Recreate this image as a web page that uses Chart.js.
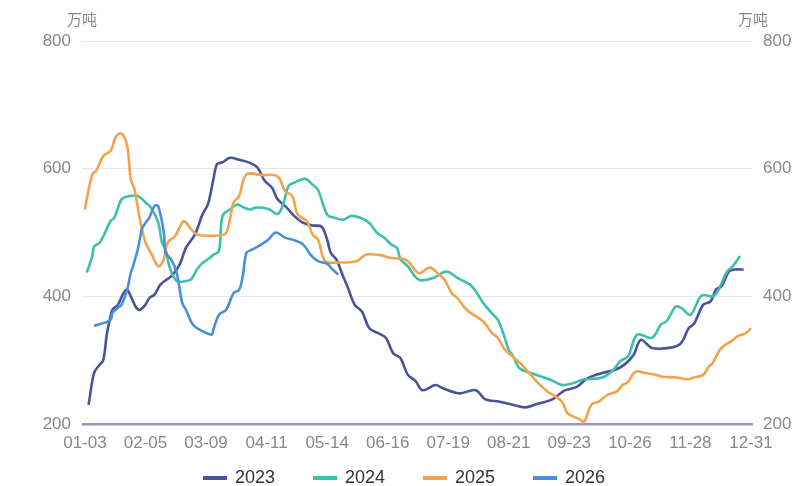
<!DOCTYPE html>
<html lang="zh-CN">
<head>
<meta charset="UTF-8">
<title>库存季节性走势</title>
<script src="https://cdn.jsdelivr.net/npm/chart.js@4.4.1/dist/chart.umd.min.js"></script>
<style>
    html, body { margin: 0; padding: 0; background: #fff; }
    .chart-box { position: relative; width: 797px; height: 486px; }
</style>
</head>
<body>
<div class="chart-box"><canvas id="stockChart"></canvas></div>
<script>
// x = 日序号（01-03 为 0）
const tickDays = [0, 33, 66, 99, 132, 165, 198, 231, 264, 297, 330, 363];
const tickLabels = ['01-03', '02-05', '03-09', '04-11', '05-14', '06-16', '07-19', '08-21', '09-23', '10-26', '11-28', '12-31'];
const unitLabel = '万吨';

const days2023 = [2,5,8,10,12,14,15,18,21,23,25,28,30,33,35,38,41,45,48,52,55,60,64,67,70,72,75,79,84,90,94,98,102,105,110,114,119,124,129,132,134,137,141,143,147,151,155,160,164,168,172,176,180,184,191,195,204,213,218,226,232,240,246,255,261,268,274,282,289,294,299,303,309,320,325,329,332,337,341,344,347,351,354,359];
const values2023 = [230,280,293,300,342,369,379,387,405,410,400,382,379,387,397,403,418,427,434,452,476,497,528,544,583,607,610,617,614,609,602,581,570,552,539,526,515,511,509,489,468,458,429,416,387,376,350,342,335,311,303,277,268,253,261,256,248,253,239,235,231,226,231,239,252,258,272,280,285,293,308,332,319,320,327,350,357,387,392,411,416,439,442,442];

const days2024 = [1,4,5,8,11,14,16,20,24,29,33,36,40,42,44,46,50,55,58,61,64,67,70,73,75,79,83,86,90,93,100,105,108,111,114,120,124,127,132,136,141,145,150,155,159,163,167,170,172,176,180,183,190,197,203,210,213,217,221,225,228,231,233,237,243,249,254,260,266,272,281,287,292,296,301,309,314,317,322,325,330,336,343,350,353,357];
const values2024 = [437,463,478,484,500,518,523,552,557,557,547,539,515,484,473,447,424,424,427,442,452,458,465,471,526,536,544,540,536,539,537,529,544,573,578,584,575,567,528,523,520,526,523,515,500,492,481,476,458,447,431,425,429,439,429,418,408,390,376,363,342,316,308,287,280,274,269,261,264,270,272,282,299,306,340,335,356,361,384,382,371,401,401,439,447,463];

const days2025 = [0,1,4,6,10,14,17,20,23,25,27,30,33,36,40,43,45,49,52,54,58,61,68,76,78,81,84,88,96,105,109,113,116,121,124,127,131,138,148,153,160,167,174,177,182,188,193,196,200,203,208,213,217,222,225,229,233,238,243,247,252,256,260,263,266,270,272,276,280,285,290,293,296,300,305,311,315,322,328,332,337,340,342,346,349,352,356,360,363];
const values2025 = [536,552,591,596,620,628,651,655,636,583,568,520,484,468,447,458,484,494,510,518,505,497,495,497,507,547,557,591,590,588,565,557,528,518,497,489,455,453,455,465,465,460,458,452,436,445,434,426,405,397,379,369,361,342,335,316,306,293,277,264,251,244,235,217,212,207,203,230,235,246,251,261,266,282,280,277,274,273,270,273,277,290,295,316,324,329,338,342,350];

const days2026 = [5,10,14,15,18,20,23,25,26,29,31,33,35,38,40,43,44,47,50,53,55,59,63,69,70,73,77,81,84,86,88,91,96,100,104,109,114,119,123,127,132,134,138];
const values2026 = [354,358,363,374,382,387,410,437,445,476,505,515,523,542,541,500,468,458,437,390,379,355,347,340,348,371,379,405,410,431,468,473,481,489,500,492,488,481,465,455,451,445,434];

function toPoints(days, values) {
    return days.map((d, i) => ({ x: d, y: values[i] }));
}

function lineSet(label, days, values, color, order) {
    return {
        label: label,
        data: toPoints(days, values),
        borderColor: color,
        backgroundColor: color,
        borderWidth: 2.6,
        pointRadius: 0,
        tension: 0.35,
        order: order
    };
}

// 单位文字 + 底部图例
const extraText = {
    id: 'extraText',
    afterDraw(chart) {
        const ctx = chart.ctx;
        const area = chart.chartArea;
        ctx.save();
        ctx.font = '15px "Noto Sans CJK SC", sans-serif';
        ctx.fillStyle = '#888';
        ctx.textAlign = 'center';
        ctx.textBaseline = 'middle';
        ctx.fillText(unitLabel, area.left, 19);
        ctx.fillText(unitLabel, area.right, 19);

        ctx.font = '18px "Liberation Sans", Arial, sans-serif';
        ctx.textAlign = 'left';
        chart.data.datasets.forEach((ds, i) => {
            const x = 203 + i * 110;
            ctx.fillStyle = ds.borderColor;
            ctx.fillRect(x, 476, 24, 4);
            ctx.fillStyle = '#333';
            ctx.fillText(ds.label, x + 32, 478);
        });
        ctx.restore();
    }
};

Chart.defaults.font.family = '"Liberation Sans", Arial, sans-serif';

new Chart(document.getElementById('stockChart'), {
    type: 'line',
    data: {
        datasets: [
            lineSet('2023', days2023, values2023, '#4b5398', 4),
            lineSet('2024', days2024, values2024, '#3dbfae', 3),
            lineSet('2025', days2025, values2025, '#f5a24f', 2),
            lineSet('2026', days2026, values2026, '#4a8fdb', 1)
        ]
    },
    options: {
        responsive: true,
        maintainAspectRatio: false,
        animation: false,
        layout: { padding: { top: 41, bottom: 0, left: 0, right: 0 } },
        plugins: {
            legend: { display: false },
            tooltip: { enabled: false }
        },
        scales: {
            x: {
                type: 'linear',
                min: -1.6,
                max: 364.1,
                afterBuildTicks: s => { s.ticks = tickDays.map(v => ({ value: v })); },
                afterFit: s => { s.height = 62; },
                grid: { display: false, drawTicks: false },
                border: { display: false },
                ticks: {
                    padding: 9,
                    color: '#888',
                    font: { size: 17 },
                    maxRotation: 0,
                    autoSkip: false,
                    callback: v => tickLabels[tickDays.indexOf(v)]
                }
            },
            y: {
                position: 'left',
                min: 200,
                max: 800,
                afterFit: s => { s.width = 82; },
                grid: {
                    drawTicks: false,
                    color: c => (c.tick && c.tick.value === 200) ? '#9597c0' : '#e6e6ef',
                    lineWidth: c => (c.tick && c.tick.value === 200) ? 2.5 : 1
                },
                border: { display: false },
                ticks: { stepSize: 200, padding: 11, color: '#888', font: { size: 17 } }
            },
            y2: {
                position: 'right',
                min: 200,
                max: 800,
                afterFit: s => { s.width = 44; },
                grid: { drawOnChartArea: false, drawTicks: false },
                border: { display: false },
                ticks: { stepSize: 200, padding: 10, color: '#888', font: { size: 17 } }
            }
        }
    },
    plugins: [extraText]
});
</script>
</body>
</html>
